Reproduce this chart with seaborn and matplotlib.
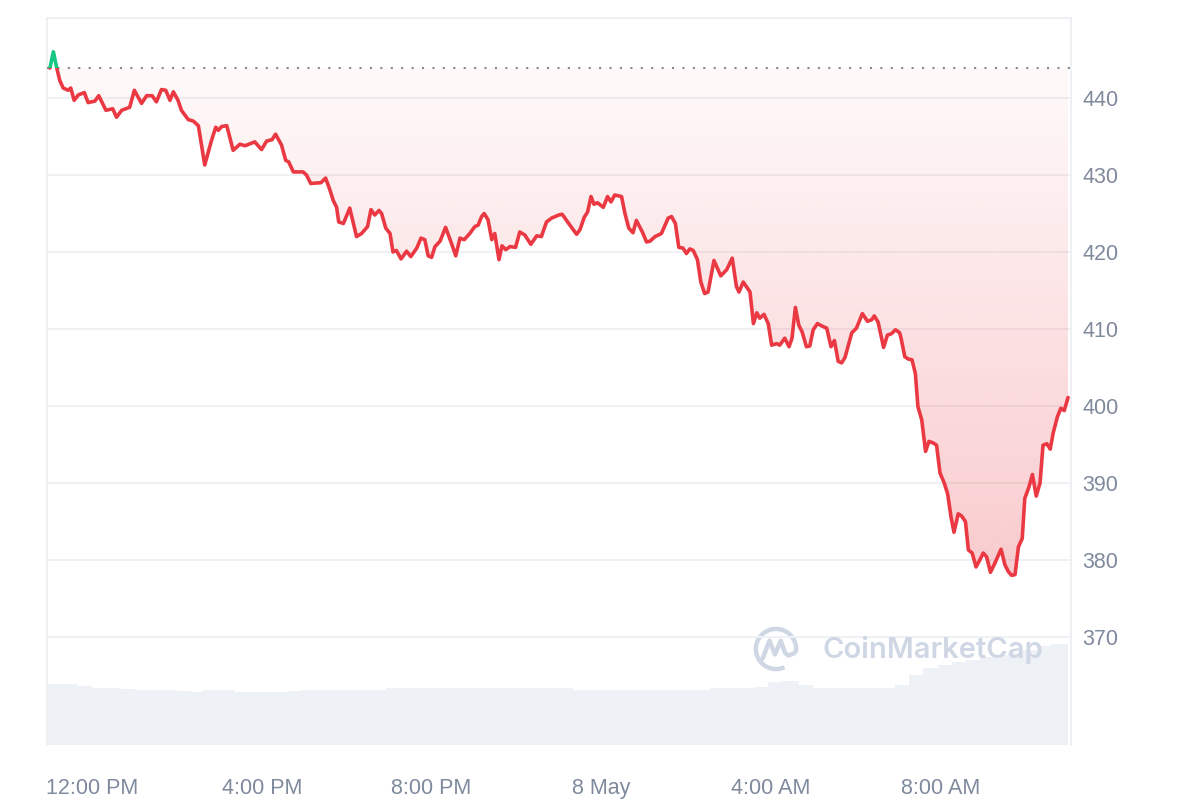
import matplotlib
matplotlib.use("Agg")
import matplotlib.pyplot as plt
import matplotlib.dates as mdates
from matplotlib.patches import Rectangle, Arc
from matplotlib.colors import to_rgb
import numpy as np
import pandas as pd
import seaborn as sns

# price (hours after midnight on 7 May)
hours = [11.00, 11.08, 11.16, 11.23, 11.31, 11.43, 11.49, 11.57, 11.67, 11.81, 11.90, 12.06, 12.15, 12.32,
         12.48, 12.57, 12.69, 12.88, 12.99, 13.16, 13.28, 13.41, 13.51, 13.63, 13.73, 13.83, 13.91, 14.02,
         14.10, 14.26, 14.38, 14.50, 14.65, 14.81, 14.91, 14.97, 15.05, 15.17, 15.32, 15.48, 15.60, 15.83,
         15.99, 16.11, 16.24, 16.32, 16.46, 16.56, 16.63, 16.74, 16.97, 17.05, 17.15, 17.39, 17.50, 17.60,
         17.68, 17.76, 17.81, 17.92, 18.07, 18.23, 18.35, 18.49, 18.57, 18.66, 18.76, 18.82, 18.92, 19.02,
         19.09, 19.17, 19.28, 19.41, 19.51, 19.65, 19.75, 19.84, 19.92, 20.00, 20.08, 20.20, 20.33, 20.47,
         20.57, 20.67, 20.77, 20.90, 21.02, 21.10, 21.18, 21.24, 21.33, 21.42, 21.49, 21.59, 21.66, 21.75,
         21.85, 21.98, 22.08, 22.20, 22.34, 22.48, 22.59, 22.71, 22.83, 23.00, 23.08, 23.26, 23.42, 23.50,
         23.60, 23.68, 23.76, 23.83, 23.91, 24.05, 24.15, 24.23, 24.32, 24.48, 24.56, 24.65, 24.75, 24.83,
         24.97, 25.07, 25.15, 25.27, 25.42, 25.58, 25.66, 25.75, 25.83, 25.93, 26.01, 26.09, 26.17, 26.27,
         26.35, 26.44, 26.52, 26.66, 26.82, 26.96, 27.09, 27.19, 27.25, 27.35, 27.51, 27.59, 27.67, 27.74,
         27.84, 27.94, 28.02, 28.14, 28.21, 28.33, 28.43, 28.50, 28.58, 28.66, 28.74, 28.84, 28.92, 29.00,
         29.10, 29.20, 29.32, 29.42, 29.50, 29.59, 29.67, 29.75, 29.91, 30.02, 30.16, 30.28, 30.38, 30.44,
         30.53, 30.66, 30.75, 30.85, 30.94, 31.04, 31.08, 31.16, 31.24, 31.33, 31.41, 31.47, 31.56, 31.65,
         31.73, 31.83, 31.91, 31.99, 32.09, 32.17, 32.25, 32.32, 32.42, 32.50, 32.59, 32.66, 32.75, 32.84,
         32.93, 33.01, 33.09, 33.18, 33.27, 33.43, 33.52, 33.60, 33.68, 33.76, 33.84, 33.93, 33.99, 34.09,
         34.17, 34.26, 34.35, 34.42, 34.51, 34.59, 34.66, 34.76, 34.84, 34.92, 35.01]
price = [443.9, 446.0, 443.9, 442.3, 441.3, 441.0, 441.3, 439.7, 440.4, 440.7, 439.4, 439.6, 440.3, 438.4,
         438.6, 437.5, 438.4, 438.8, 441.0, 439.3, 440.3, 440.3, 439.5, 441.1, 441.0, 439.7, 440.8, 439.7,
         438.4, 437.2, 437.0, 436.4, 431.3, 434.5, 436.2, 435.8, 436.3, 436.4, 433.2, 434.0, 433.8, 434.3,
         433.3, 434.4, 434.6, 435.3, 433.9, 431.9, 431.7, 430.4, 430.4, 430.0, 428.9, 429.0, 429.6, 428.1,
         426.7, 425.8, 423.9, 423.7, 425.7, 422.0, 422.4, 423.3, 425.5, 424.8, 425.4, 425.0, 423.1, 422.4,
         420.0, 420.2, 419.1, 420.1, 419.4, 420.5, 421.8, 421.6, 419.5, 419.3, 420.7, 421.4, 423.2, 421.1,
         419.5, 421.8, 421.6, 422.4, 423.3, 423.5, 424.6, 425.0, 424.2, 421.6, 422.4, 419.0, 420.8, 420.3,
         420.7, 420.6, 422.6, 422.2, 421.0, 422.1, 422.0, 423.9, 424.4, 424.8, 424.9, 423.5, 422.3, 422.9,
         424.5, 425.2, 427.2, 426.2, 426.4, 425.8, 427.2, 426.5, 427.4, 427.2, 425.0, 423.1, 422.5, 424.1,
         422.6, 421.3, 421.4, 422.0, 422.4, 424.4, 424.6, 423.7, 420.6, 420.5, 419.8, 420.4, 420.2, 419.0,
         416.1, 414.6, 414.8, 418.9, 416.9, 417.7, 419.2, 415.5, 414.8, 416.1, 414.8, 410.7, 412.1, 411.4,
         411.9, 410.7, 407.9, 408.1, 407.9, 408.8, 407.7, 408.8, 412.8, 410.5, 409.6, 407.7, 407.8, 409.9,
         410.7, 410.4, 410.1, 407.7, 408.5, 405.8, 405.6, 406.3, 409.5, 410.1, 412.0, 411.0, 411.2, 411.7,
         410.9, 407.6, 409.2, 409.4, 409.9, 409.5, 408.6, 406.4, 406.1, 406.0, 404.2, 399.9, 398.2, 394.1,
         395.4, 395.2, 394.9, 391.3, 390.0, 388.6, 385.6, 383.6, 386.0, 385.7, 385.0, 381.3, 380.9, 379.1,
         380.0, 380.9, 380.4, 378.4, 379.4, 381.4, 379.4, 378.5, 378.0, 378.1, 381.7, 382.8, 388.0, 389.5,
         391.1, 388.3, 390.0, 394.9, 395.1, 394.4, 396.5, 398.6, 399.7, 399.4, 401.1]
open_price = 443.9

# volume bars, one every 20 minutes (relative heights)
vol_start = "2024-05-07 10:56"
volume = [61, 61, 59, 57, 57, 56, 55, 55, 55, 54, 53, 55, 55, 53, 53, 53, 53, 54, 55, 55,
          55, 55, 55, 55, 57, 57, 57, 57, 57, 57, 57, 57, 57, 57, 57, 57, 57, 55, 55, 55,
          55, 55, 55, 55, 55, 55, 55, 57, 57, 57, 58, 63, 64, 60, 57, 57, 57, 57, 57, 57,
          60, 70, 77, 80, 83, 85, 88, 90, 92, 95, 99, 101]

tick_times = ["2024-05-07 12:00", "2024-05-07 16:00", "2024-05-07 20:00",
              "2024-05-08 00:00", "2024-05-08 04:00", "2024-05-08 08:00"]
tick_labels = ["12:00 PM", "4:00 PM", "8:00 PM", "8 May", "4:00 AM", "8:00 AM"]
y_ticks = [370, 380, 390, 400, 410, 420, 430, 440]

RED = "#ea3943"
GREEN = "#16c784"
GREY_TXT = "#808a9d"
GRID = "#eff1f4"

sns.set_style("white")
plt.rcParams["font.family"] = ["Liberation Sans", "DejaVu Sans"]

df = pd.DataFrame({"time": pd.Timestamp("2024-05-07") + pd.to_timedelta(hours, unit="h"),
                   "price": price})
vol_times = pd.date_range(vol_start, periods=len(volume), freq="20min")

fig = plt.figure(figsize=(12, 8), dpi=100)
ax = fig.add_axes([47 / 1200, 1 - 745 / 800, 1024 / 1200, 727 / 800])
vax = ax.twinx()
ax.set_zorder(vax.get_zorder() + 1)
ax.patch.set_visible(False)

# volume (bars slightly overlap so the last one reaches the right edge)
vax.bar(vol_times, volume, width=pd.Timedelta(minutes=24), align="edge",
        color="#eef1f5", linewidth=0)
vax.set_ylim(0, 727)
vax.set_yticks([])
for s in vax.spines.values():
    s.set_visible(False)

# price line, red below the open and green above it
sns.lineplot(data=df, x="time", y="price", ax=ax, color=RED, linewidth=2.6, zorder=4)
red_line = ax.lines[-1]
sns.lineplot(data=df, x="time", y="price", ax=ax, color=GREEN, linewidth=2.6, zorder=4)
green_line = ax.lines[-1]
yt = ax.get_yaxis_transform()
red_line.set_clip_path(Rectangle((0, 300), 1, open_price - 300, transform=yt))
green_line.set_clip_path(Rectangle((0, open_price), 1, 100, transform=yt))
for ln in (red_line, green_line):
    ln.set_solid_joinstyle("round")
    ln.set_solid_capstyle("round")

# gradient fill between open and price
tnum = mdates.date2num(df["time"])
poly = ax.fill_between(df["time"], np.minimum(df["price"], open_price), open_price,
                       facecolor="none", edgecolor="none")
grad = np.zeros((256, 1, 4))
grad[..., :3] = to_rgb(RED)
grad[:, 0, 3] = np.linspace(0.27, 0.03, 256)
im = ax.imshow(grad, extent=[tnum[0], tnum[-1], 376, open_price], origin="lower",
               aspect="auto", zorder=2, interpolation="bilinear")
im.set_clip_path(poly.get_paths()[0], transform=ax.transData)

# dotted open line
ax.axhline(open_price, color="#85888f", linewidth=1.5, linestyle=(0, (1, 4)), zorder=3)

ax.set_xlim(pd.Timestamp("2024-05-07") + pd.Timedelta(hours=10.93),
            pd.Timestamp("2024-05-07") + pd.Timedelta(hours=35.08))
ax.set_ylim(355.97, 450.39)
ax.set_aspect("auto")

ax.set_yticks(y_ticks)
ax.yaxis.tick_right()
ax.grid(axis="y", color=GRID, linewidth=1.4)
ax.grid(axis="x", visible=False)
ax.set_xticks(mdates.date2num(pd.to_datetime(tick_times)))
ax.set_xticklabels(tick_labels)
ax.tick_params(axis="x", length=0, pad=24, labelsize=15.5, labelcolor=GREY_TXT)
ax.tick_params(axis="y", length=0, pad=8, labelsize=15.5, labelcolor=GREY_TXT)
ax.set_xlabel("")
ax.set_ylabel("")
for side in ["top", "left", "right"]:
    ax.spines[side].set_color("#eceef1")
    ax.spines[side].set_linewidth(1.2)
ax.spines["bottom"].set_visible(False)

# CoinMarketCap watermark
WM = "#cfd6e4"
fig.text(822 / 1200, 1 - 650 / 800, "CoinMarketCap", color=WM, fontsize=21,
         fontweight="semibold", family=["Inter", "DejaVu Sans"], va="center", ha="left", zorder=5)
lax = fig.add_axes([751 / 1200, 1 - 674 / 800, 50 / 1200, 50 / 800])
lax.set_xlim(-1.15, 1.15)
lax.set_ylim(-1.15, 1.15)
lax.set_aspect("equal")
lax.axis("off")
lax.add_patch(Arc((0, 0), 1.85, 1.85, theta1=-10, theta2=295, color=WM, linewidth=3.2))
lax.plot([-0.62, -0.3, -0.05, 0.22, 0.42, 0.58, 0.86], [-0.45, 0.38, -0.25, 0.38, -0.18, -0.3, -0.18],
         color=WM, linewidth=3.2, solid_joinstyle="round", solid_capstyle="round")

fig.savefig("out.png", dpi=100)
